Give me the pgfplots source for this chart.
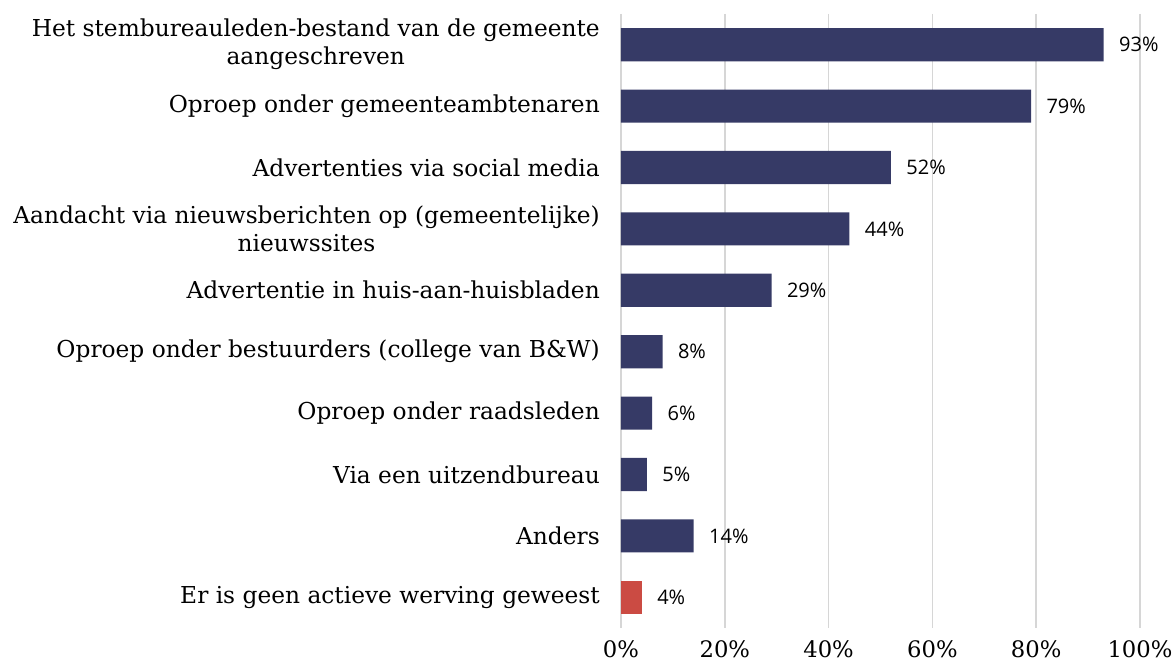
\documentclass[border=0pt]{standalone}
\usepackage{fontspec}
\setmainfont{DejaVu Serif}
\newfontfamily\valfont{Open Sans}
\usepackage{pgfplots}
\pgfplotsset{compat=1.18}
\definecolor{navy}{HTML}{363A66}
\definecolor{redbar}{HTML}{CB4B43}
\definecolor{gridc}{HTML}{D6D6D6}
\begin{document}
\begin{tikzpicture}
\path[use as bounding box] (-621pt,-35pt) rectangle (554pt,628pt);
\begin{axis}[
  scale only axis, width=519pt, height=614pt,
  xmin=0, xmax=100, ymin=-0.5, ymax=9.5, y dir=reverse,
  xbar, bar width=0.54, clip=false,
  axis line style={draw=none}, major tick length=0pt,
  xtick={0,20,...,100}, xmajorgrids, grid style={gridc, line width=1.7pt},
  ytick={0,...,9},
  yticklabels={{Het stembureauleden-bestand van de gemeente\\aangeschreven},
    {Oproep onder gemeenteambtenaren},
    {Advertenties via social media},
    {Aandacht via nieuwsberichten op (gemeentelijke)\\nieuwssites},
    {Advertentie in huis-aan-huisbladen},
    {Oproep onder bestuurders (college van B\&W)},
    {Oproep onder raadsleden},
    {Via een uitzendbureau},
    {Anders},
    {Er is geen actieve werving geweest}},
  yticklabel style={align=center, inner sep=0pt, xshift=-21pt, font=\fontsize{23.3}{28}\selectfont},
  xticklabel={\pgfmathprintnumber{\tick}\%},
  xticklabel style={inner sep=0pt, yshift=-12pt, font=\fontsize{22.7}{26}\selectfont},
  /pgf/number format/assume math mode=true,
  nodes near coords={\pgfmathprintnumber{\pgfplotspointmeta}\%},
  nodes near coords style={font=\valfont\fontsize{20}{22}\selectfont, anchor=west, xshift=12pt, /pgf/number format/assume math mode=true},
]
\addplot[fill=navy, draw=none, bar shift=0pt] coordinates {
(93,0) (79,1) (52,2) (44,3) (29,4) (8,5) (6,6) (5,7) (14,8)};
\addplot[fill=redbar, draw=none, bar shift=0pt] coordinates {(4,9)};
\end{axis}
\end{tikzpicture}
\end{document}
